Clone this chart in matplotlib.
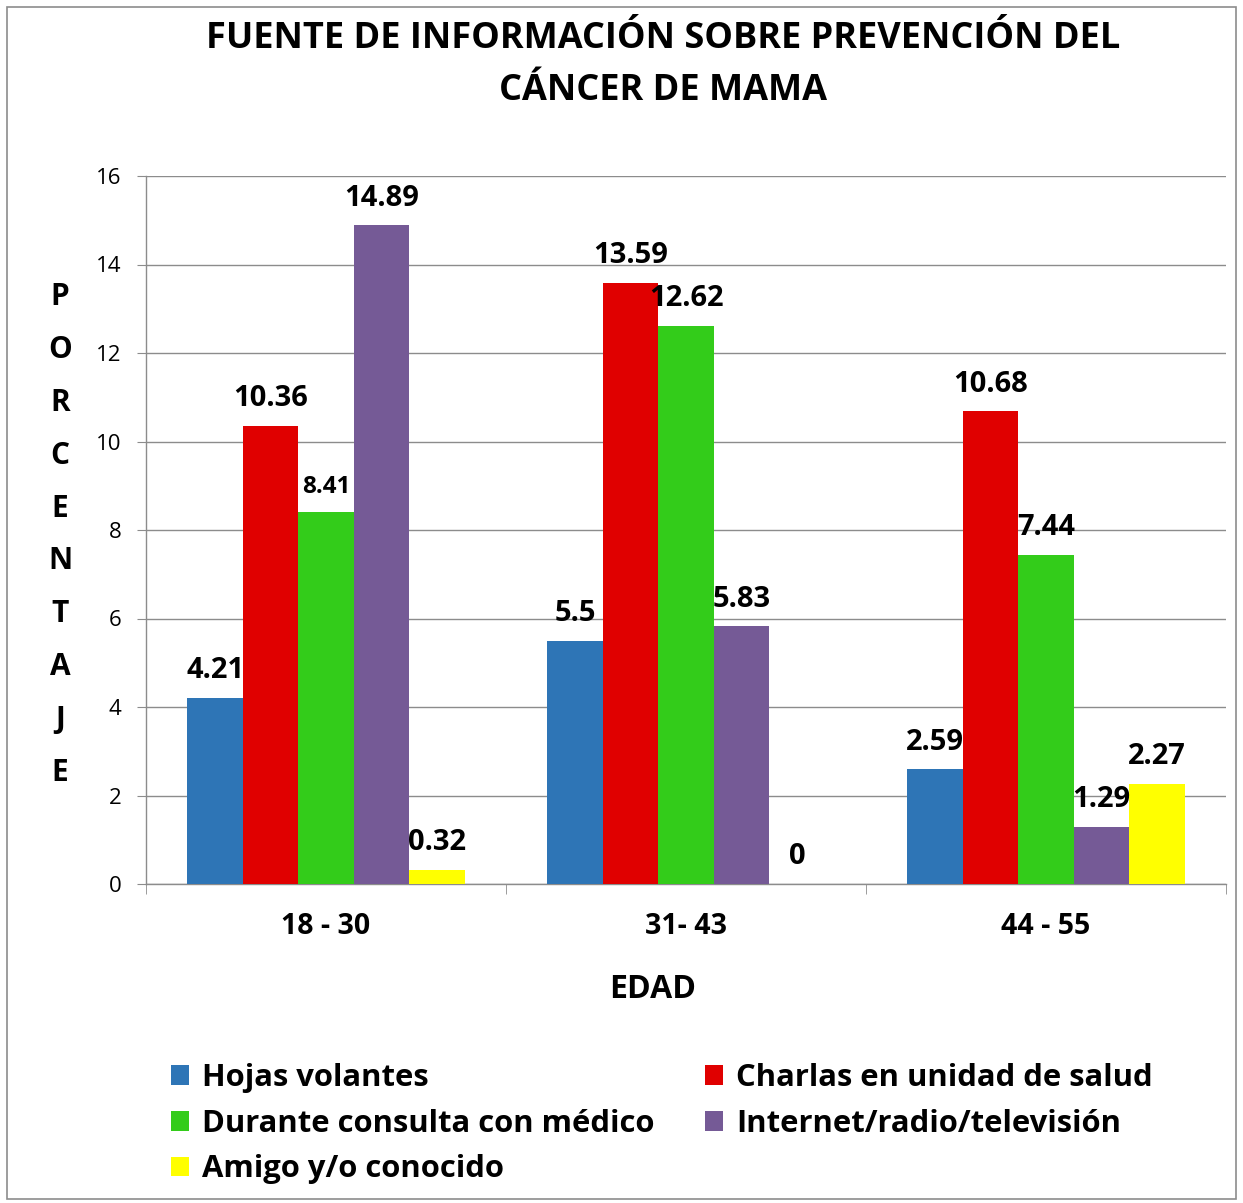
import matplotlib
matplotlib.use("Agg")
import matplotlib.pyplot as plt
from matplotlib.patches import Rectangle, Patch
import numpy as np

plt.rcParams['font.family'] = ['Open Sans', 'DejaVu Sans']

# Data
age_groups = ["18 - 30", "31- 43", "44 - 55"]
sources = ["Hojas volantes", "Charlas en unidad de salud", "Durante consulta con médico",
           "Internet/radio/televisión", "Amigo y/o conocido"]
hojas = [4.21, 5.5, 2.59]
charlas = [10.36, 13.59, 10.68]
consulta = [8.41, 12.62, 7.44]
internet = [14.89, 5.83, 1.29]
amigo = [0.32, 0, 2.27]
values = [hojas, charlas, consulta, internet, amigo]
colors = ["#2E75B6", "#E00000", "#33CC1A", "#755A96", "#FFFF00"]

W, H = 1243, 1203
fig = plt.figure(figsize=(W / 100, H / 100), dpi=100)
fig.patch.set_facecolor("white")

# Outer frame
fig.patches.append(Rectangle((7 / W, 4 / H), (W - 14) / W, (H - 11) / H, transform=fig.transFigure,
                             fill=False, edgecolor="#8C8C8C", linewidth=1.2))

ax = fig.add_axes([146 / W, (H - 884) / H, 1080 / W, 708 / H])
ax.set_facecolor("white")

x = np.arange(len(age_groups))
bw = 0.77 / len(sources)
for i, (vals, col) in enumerate(zip(values, colors)):
    pos = x + (i - 2) * bw
    ax.bar(pos, vals, width=bw, color=col, zorder=3)
    for p, v in zip(pos, vals):
        label = f"{v:g}"
        fs = 17.5 if v == 8.41 else 21
        ax.annotate(label, (p, v), xytext=(0, 9), textcoords="offset points",
                    ha="center", va="bottom", fontsize=fs, fontweight="bold", zorder=4)

ax.set_xlim(-0.5, 2.5)
ax.set_ylim(0, 16)
ax.set_yticks(np.arange(0, 17, 2))
ax.yaxis.grid(True, color="#8C8C8C", linewidth=1.0, zorder=0)
ax.tick_params(axis="y", length=6.5, color="#8C8C8C", labelsize=16, pad=11)
ax.set_xticks(x)
ax.set_xticklabels(age_groups, fontsize=20.5, fontweight="bold")
ax.set_xticks([-0.5, 0.5, 1.5, 2.5], minor=True)
ax.tick_params(axis="x", which="major", length=0, pad=20.5)
ax.tick_params(axis="x", which="minor", length=7, color="#8C8C8C")
for s in ["top", "right"]:
    ax.spines[s].set_visible(False)
for s in ["left", "bottom"]:
    ax.spines[s].set_color("#8C8C8C")
    ax.spines[s].set_linewidth(1.0)

# Titles
fig.text(663 / W, 1 - 39 / H, "FUENTE DE INFORMACIÓN SOBRE PREVENCIÓN DEL",
         ha="center", va="center", fontsize=26, fontweight="bold")
fig.text(663 / W, 1 - 91 / H, "CÁNCER DE MAMA",
         ha="center", va="center", fontsize=26, fontweight="bold")
fig.text(653 / W, 1 - 990 / H, "EDAD", ha="center", va="center", fontsize=23, fontweight="bold")

# Vertical stacked axis label
ylabel = "PORCENTAJE"
y0, y1 = 297, 773
for k, ch in enumerate(ylabel):
    yy = y0 + (y1 - y0) * k / (len(ylabel) - 1)
    fig.text(60 / W, 1 - yy / H, ch, ha="center", va="center", fontsize=21.5, fontweight="bold")

# Legend (row-major order in two columns)
handles = [Patch(facecolor=c, edgecolor="none") for c in colors]
order = [0, 2, 4, 1, 3]
leg = fig.legend([handles[i] for i in order], [sources[i] for i in order],
                 ncol=2, loc="upper left", bbox_to_anchor=(143 / W, 1 - 1035 / H),
                 frameon=False, prop={"size": 22.3, "weight": "bold"},
                 handlelength=0.6, handleheight=0.6, handletextpad=0.4,
                 columnspacing=1.63, labelspacing=0.51)

fig.savefig("out.png", dpi=100, facecolor="white")
